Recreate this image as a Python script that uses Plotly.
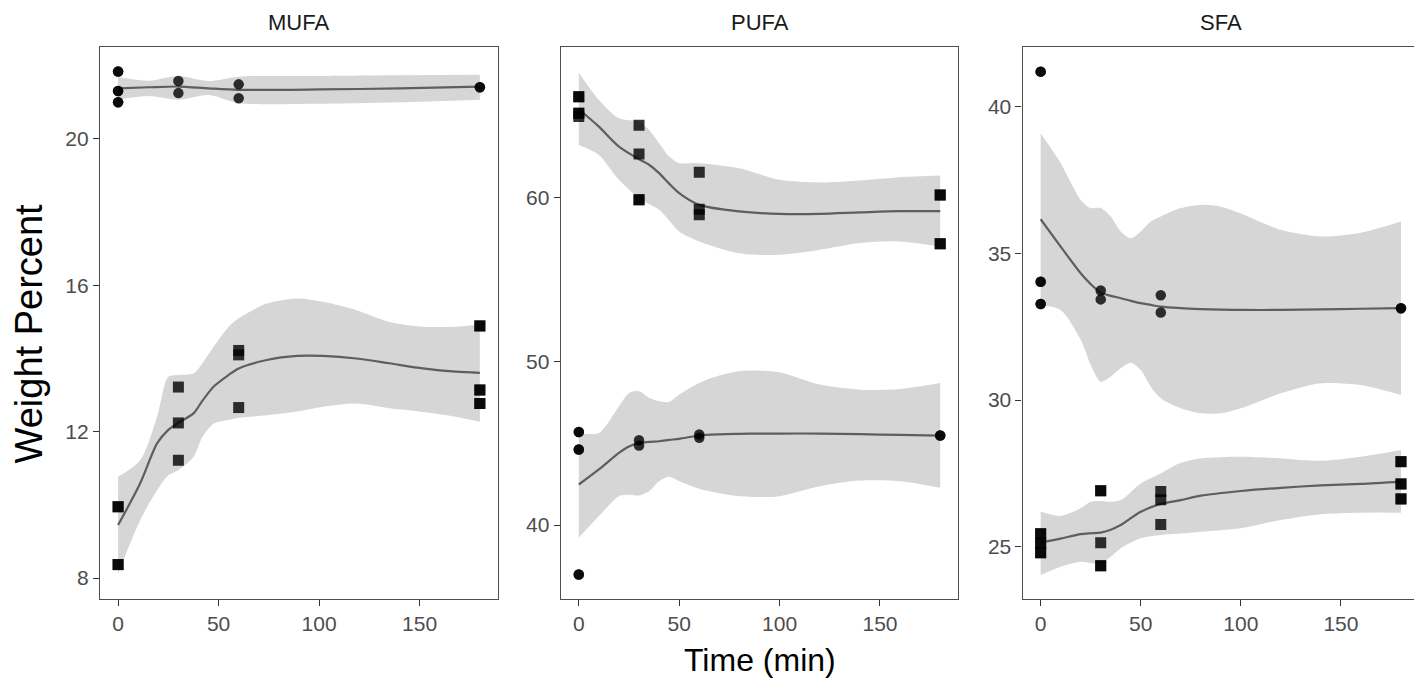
import plotly.graph_objects as go

# ---------------- data ----------------
facets = ["MUFA", "PUFA", "SFA"]
x_ticks = [0, 50, 100, 150]

# MUFA - circles (upper group)
mufa_c_t = [0, 0, 0, 0, 0, 0, 30, 30, 60, 60, 180, 180]
mufa_c_v = [21.84, 21.84, 21.31, 21.31, 21.0, 21.0, 21.58, 21.25, 21.49, 21.11, 21.41, 21.41]
# MUFA - squares (lower group)
mufa_s_t = [0, 0, 0, 0, 30, 30, 30, 60, 60, 60, 180, 180, 180, 180, 180, 180]
mufa_s_v = [9.95, 9.95, 8.37, 8.37, 13.22, 12.24, 11.22, 14.1, 14.22, 12.66,
            14.89, 14.89, 13.14, 13.14, 12.77, 12.77]

# PUFA - squares (upper group)
pufa_s_t = [0, 0, 0, 0, 0, 30, 30, 30, 30, 60, 60, 60, 180, 180, 180, 180]
pufa_s_v = [66.16, 66.16, 65.15, 65.15, 64.95, 64.41, 62.66, 59.86, 59.86,
            61.55, 59.29, 58.95, 60.16, 60.16, 57.18, 57.18]
# PUFA - circles (lower group)
pufa_c_t = [0, 0, 0, 0, 0, 0, 30, 30, 60, 60, 180, 180]
pufa_c_v = [45.69, 45.69, 44.62, 44.62, 36.99, 36.99, 45.18, 44.86, 45.53, 45.33, 45.47, 45.47]

# SFA - circles (upper group)
sfa_c_t = [0, 0, 0, 0, 0, 0, 30, 30, 60, 60, 180, 180]
sfa_c_v = [41.19, 41.19, 34.03, 34.03, 33.27, 33.27, 33.73, 33.43, 33.57, 32.98, 33.13, 33.13]
# SFA - squares (lower group)
sfa_s_t = [0, 0, 0, 0, 0, 0, 30, 30, 30, 30, 30, 60, 60, 60, 180, 180, 180, 180, 180, 180]
sfa_s_v = [25.44, 25.44, 25.12, 25.12, 24.80, 24.80, 26.91, 26.91, 25.14, 24.35, 24.35,
           26.88, 26.6, 25.76, 27.9, 27.9, 27.14, 27.14, 26.63, 26.63]

# smooth fits: time grid, fit, lower, upper
mufa_up_t = [0, 15, 30, 45, 60, 100, 140, 180]
mufa_up_fit = [21.38, 21.41, 21.43, 21.38, 21.34, 21.35, 21.38, 21.43]
mufa_up_lo = [21.07, 21.17, 21.07, 21.2, 20.98, 20.96, 21.0, 21.07]
mufa_up_hi = [21.69, 21.59, 21.72, 21.58, 21.7, 21.72, 21.74, 21.75]

mufa_lo_t = [0, 11, 19.4, 25, 30, 37.5, 42, 47.5, 55, 60, 74, 89, 102, 118.7, 135, 151.7, 168, 180]
mufa_lo_fit = [9.45, 10.59, 11.68, 12.05, 12.24, 12.5, 12.85, 13.23, 13.55, 13.73, 13.96, 14.07,
               14.07, 14.0, 13.87, 13.73, 13.64, 13.61]
mufa_lo_lo = [8.13, 9.58, 10.4, 10.81, 10.95, 11.31, 11.86, 12.22, 12.32, 12.38, 12.45, 12.55,
              12.68, 12.77, 12.64, 12.54, 12.41, 12.27]
mufa_lo_hi = [10.77, 11.22, 12.41, 13.5, 13.55, 13.59, 13.87, 14.32, 14.87, 15.1, 15.5, 15.64,
              15.55, 15.32, 15.0, 14.87, 14.87, 14.93]

pufa_up_t = [0, 10, 20, 30, 35, 40, 45, 50, 60, 80, 100, 120, 140, 160, 180]
pufa_up_fit = [65.39, 64.33, 63.11, 62.34, 62.0, 61.49, 60.85, 60.27, 59.55, 59.15, 59.0, 59.0,
               59.09, 59.17, 59.17]
pufa_up_lo = [63.21, 62.6, 61.08, 59.96, 59.6, 59.25, 58.6, 57.93, 57.32, 56.6, 56.5, 56.81,
              57.22, 57.32, 57.01]
pufa_up_hi = [67.62, 65.96, 64.84, 64.63, 64.13, 63.32, 62.5, 62.1, 62.1, 61.79, 61.08, 60.92,
              61.04, 61.24, 61.34]

pufa_lo_t = [0, 10, 20, 25, 30, 35, 40, 45, 50, 60, 70, 80, 90, 100, 120, 140, 160, 180]
pufa_lo_fit = [42.48, 43.4, 44.41, 44.8, 45.02, 45.08, 45.12, 45.2, 45.27, 45.47, 45.54, 45.57,
               45.59, 45.59, 45.59, 45.55, 45.51, 45.47]
pufa_lo_lo = [39.23, 40.55, 41.77, 41.85, 41.81, 42.07, 42.68, 42.95, 42.68, 42.22, 41.95, 41.77,
              41.72, 41.77, 42.38, 42.72, 42.68, 42.28]
pufa_lo_hi = [45.63, 45.63, 47.26, 48.07, 48.17, 47.77, 47.56, 47.52, 47.97, 48.68, 49.13, 49.39,
              49.43, 49.33, 48.58, 48.27, 48.31, 48.68]

sfa_up_t = [0, 10, 20, 25, 30, 35, 40, 45, 50, 55, 60, 70, 80, 90, 100, 120, 140, 160, 180]
sfa_up_fit = [36.16, 35.23, 34.32, 33.95, 33.66, 33.55, 33.47, 33.38, 33.3, 33.24, 33.18, 33.13,
              33.1, 33.08, 33.07, 33.07, 33.09, 33.11, 33.13]
sfa_up_lo = [33.24, 33.07, 32.05, 31.2, 30.62, 30.8, 31.08, 31.27, 31.02, 30.45, 30.06, 29.72,
             29.55, 29.55, 29.72, 30.23, 30.57, 30.51, 30.17]
sfa_up_hi = [39.09, 38.07, 36.82, 36.54, 36.54, 36.25, 35.74, 35.51, 35.74, 36.08, 36.25, 36.54,
             36.65, 36.59, 36.36, 35.8, 35.57, 35.7, 36.08]

sfa_lo_t = [0, 10, 20, 25, 30, 35, 40, 50, 60, 70, 80, 100, 120, 140, 160, 180]
sfa_lo_fit = [25.14, 25.28, 25.43, 25.46, 25.48, 25.58, 25.74, 26.19, 26.46, 26.59, 26.74, 26.9,
              27.01, 27.09, 27.14, 27.22]
sfa_lo_lo = [24.04, 24.32, 24.49, 24.45, 24.43, 24.66, 24.95, 25.29, 25.4, 25.45, 25.51, 25.63,
             25.91, 26.11, 26.16, 26.16]
sfa_lo_hi = [26.19, 26.05, 26.31, 26.53, 26.56, 26.53, 26.59, 27.16, 27.5, 27.86, 28.01, 28.07,
             28.01, 27.93, 28.07, 28.3]

y_ranges = [[7.43, 22.51], [35.49, 69.19], [23.22, 42.03]]
y_ticks = [[8, 12, 16, 20], [40, 50, 60], [25, 30, 35, 40]]

# ---------------- figure ----------------
BAND = "#D6D6D6"
LINE = "#5E5E5E"
PT = "rgba(0,0,0,0.8)"
FONT = "Liberation Sans, Arial, sans-serif"

panels = [
    dict(circ=(mufa_c_t, mufa_c_v), sq=(mufa_s_t, mufa_s_v),
         fits=[(mufa_up_t, mufa_up_fit, mufa_up_lo, mufa_up_hi),
               (mufa_lo_t, mufa_lo_fit, mufa_lo_lo, mufa_lo_hi)]),
    dict(circ=(pufa_c_t, pufa_c_v), sq=(pufa_s_t, pufa_s_v),
         fits=[(pufa_up_t, pufa_up_fit, pufa_up_lo, pufa_up_hi),
               (pufa_lo_t, pufa_lo_fit, pufa_lo_lo, pufa_lo_hi)]),
    dict(circ=(sfa_c_t, sfa_c_v), sq=(sfa_s_t, sfa_s_v),
         fits=[(sfa_up_t, sfa_up_fit, sfa_up_lo, sfa_up_hi),
               (sfa_lo_t, sfa_lo_fit, sfa_lo_lo, sfa_lo_hi)]),
]

fig = go.Figure()
for i, p in enumerate(panels):
    xa = "x" if i == 0 else f"x{i+1}"
    ya = "y" if i == 0 else f"y{i+1}"
    for (t, fit, lo, hi) in p["fits"]:
        fig.add_trace(go.Scatter(x=t, y=lo, xaxis=xa, yaxis=ya, mode="lines",
                                 line=dict(width=0, color=BAND, shape="spline", smoothing=0.8),
                                 showlegend=False, hoverinfo="skip"))
        fig.add_trace(go.Scatter(x=t, y=hi, xaxis=xa, yaxis=ya, mode="lines", fill="tonexty",
                                 fillcolor=BAND,
                                 line=dict(width=0, color=BAND, shape="spline", smoothing=0.8),
                                 showlegend=False, hoverinfo="skip"))
    for (t, fit, lo, hi) in p["fits"]:
        fig.add_trace(go.Scatter(x=t, y=fit, xaxis=xa, yaxis=ya, mode="lines",
                                 line=dict(width=2.2, color=LINE, shape="spline", smoothing=0.8),
                                 showlegend=False))
    fig.add_trace(go.Scatter(x=p["circ"][0], y=p["circ"][1], xaxis=xa, yaxis=ya, mode="markers",
                             marker=dict(symbol="circle", size=10.5, color=PT, line=dict(width=0)),
                             showlegend=False))
    fig.add_trace(go.Scatter(x=p["sq"][0], y=p["sq"][1], xaxis=xa, yaxis=ya, mode="markers",
                             marker=dict(symbol="square", size=11, color=PT, line=dict(width=0)),
                             showlegend=False))

domains = [[0.0, 0.3017], [0.3493, 0.6507], [0.6995, 1.0]]
axis_common = dict(showline=True, linecolor="#4D4D4D", linewidth=1.4, mirror=True,
                   ticks="outside", ticklen=6, tickwidth=1.4, tickcolor="#333333",
                   showgrid=False, zeroline=False,
                   tickfont=dict(family=FONT, size=21, color="#4D4D4D"))
layout = {}
for i in range(3):
    xk = "xaxis" if i == 0 else f"xaxis{i+1}"
    yk = "yaxis" if i == 0 else f"yaxis{i+1}"
    layout[xk] = dict(axis_common, domain=domains[i], range=[-9, 189], tickvals=x_ticks,
                      anchor="y" if i == 0 else f"y{i+1}")
    layout[yk] = dict(axis_common, domain=[0, 1], range=y_ranges[i], tickvals=y_ticks[i],
                      anchor="x" if i == 0 else f"x{i+1}")
fig.update_layout(**layout)

annotations = []
for i, name in enumerate(facets):
    annotations.append(dict(text=name, xref="paper", yref="paper",
                            x=(domains[i][0] + domains[i][1]) / 2, y=1.0444,
                            xanchor="center", yanchor="middle", showarrow=False,
                            font=dict(family=FONT, size=22, color="#1A1A1A")))
annotations.append(dict(text="Time (min)", xref="paper", yref="paper", x=0.5, y=-0.110,
                        xanchor="center", yanchor="middle", showarrow=False,
                        font=dict(family=FONT, size=32, color="#000000")))
annotations.append(dict(text="Weight Percent", xref="paper", yref="paper", x=-0.0531, y=0.481,
                        xanchor="center", yanchor="middle", showarrow=False, textangle=-90,
                        font=dict(family=FONT, size=38, color="#000000")))

# page body has an 8px margin; margins below place the panels where the reference has them
fig.update_layout(width=1422, height=680, margin=dict(l=92, r=11, t=39, b=89),
                  plot_bgcolor="white", paper_bgcolor="white", annotations=annotations)

fig.write_html("out.html")
